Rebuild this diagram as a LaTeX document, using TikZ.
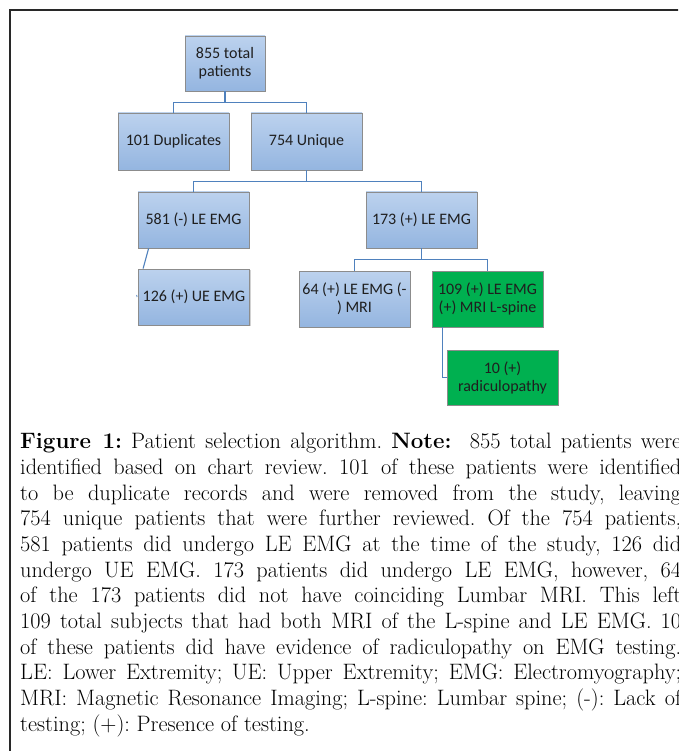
\documentclass[tikz,border=0pt]{standalone}
\usepackage{fontspec}
\newfontfamily\boxfont{Carlito}
\usetikzlibrary{calc,shadows}
\definecolor{conncol}{RGB}{79,129,189}
\definecolor{bluetop}{RGB}{188,210,238}
\definecolor{bluebot}{RGB}{148,181,224}
\definecolor{boxgreen}{RGB}{0,176,80}
\definecolor{boxborder}{RGB}{140,140,140}
\definecolor{framecol}{RGB}{40,40,40}
\begin{document}
\begin{tikzpicture}[x=1pt,y=-1pt,
  basebox/.style={draw=boxborder, line width=0.8pt, minimum width=111pt, minimum height=56pt,
    align=center, inner sep=0pt,
    font=\boxfont\fontsize{16}{18}\selectfont, text=black!88,
    drop shadow={shadow xshift=1.2pt, shadow yshift=-1.2pt, opacity=0.35, fill=gray}},
  bluebox/.style={basebox, top color=bluetop, bottom color=bluebot},
  greenbox/.style={basebox, fill=boxgreen},
  conn/.style={draw=conncol, line width=1.4pt},
  framel/.style={draw=framecol, line width=1.2pt}]
\useasboundingbox (0,0) rectangle (678,751);
\clip (0,0) rectangle (678,751);
\fill[white] (0,0) rectangle (678,751);
\draw[framel] (10,770) -- (10,10) -- (700,10);

\node[bluebox, minimum width=80pt, minimum height=55pt] (top) at (225,63.5) {855 total\\patients};
\node[bluebox, minimum height=57pt] (dup) at (173.5,141.5) {101 Duplicates};
\node[bluebox, minimum height=57pt] (uniq) at (306.5,141.5) {754 Unique};
\node[bluebox] (neg) at (193.5,220) {581 (-) LE EMG};
\node[bluebox] (pos) at (421.5,220) {173 (+) LE EMG};
\node[bluebox] (ue) at (194,297) {126 (+) UE EMG};
\node[bluebox] (mrin) at (354.5,299) {64 (+) LE EMG (-\\) MRI};
\node[greenbox] (mrip) at (487.5,299) {109 (+) LE EMG\\(+) MRI L-spine};
\node[greenbox, minimum height=55pt] (rad) at (502.5,377.5) {10 (+)\\radiculopathy};

\draw[conn] (top.south) -- ++(0,11) coordinate (j1);
\draw[conn] (dup.north) |- (j1) -| (uniq.north);
\draw[conn] (uniq.south) -- ++(0,11) coordinate (j2);
\draw[conn] (neg.north) |- (j2) -| (pos.north);
\draw[conn] (pos.south) -- ++(0,11) coordinate (j3);
\draw[conn] (mrin.north) |- (j3) -| (mrip.north);
\draw[conn, line width=1.1pt] ($(neg.south west)+(11,0)$) -- ($(ue.north west)+(5,0)$);
\draw[conn, line width=0.8pt] ($(ue.west)+(-1.5,-2)$) -- ($(ue.west)+(-1,0)$);
\draw[conn] ($(mrip.south west)+(11,0)$) |- (rad.west);

\node[anchor=north west, text width=661pt, inner sep=0pt, align=justify,
  font=\fontsize{22.3}{25.7}\selectfont] (cap) at (20,433)
{\frenchspacing\hyphenpenalty=10000\tolerance=10000\relax
\textbf{Figure 1:} Patient selection algorithm. \textbf{Note:}\ \ 855 total patients were\linebreak
identified based on chart review. 101 of these patients were identified\linebreak
to be duplicate records and were removed from the study, leaving\linebreak
754 unique patients that were further reviewed. Of the 754 patients,\linebreak
581 patients did undergo LE EMG at the time of the study, 126 did\linebreak
undergo UE EMG. 173 patients did undergo LE EMG, however, 64\linebreak
of the 173 patients did not have coinciding Lumbar MRI. This left\linebreak
109 total subjects that had both MRI of the L-spine and LE EMG. 10\linebreak
of these patients did have evidence of radiculopathy on EMG testing.\linebreak
LE: Lower Extremity; UE: Upper Extremity; EMG: Electromyography;\linebreak
MRI: Magnetic Resonance Imaging; L-spine: Lumbar spine; (-): Lack of\linebreak
testing; (+): Presence of testing.\par};
\end{tikzpicture}
\end{document}
